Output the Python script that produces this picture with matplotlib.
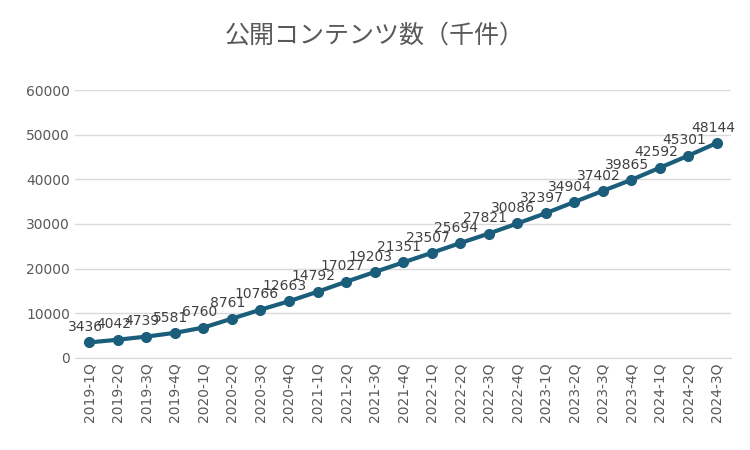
import matplotlib.pyplot as plt

plt.rcParams['font.family'] = ['DejaVu Sans', 'Noto Sans CJK JP']

quarters = ["2019-1Q", "2019-2Q", "2019-3Q", "2019-4Q", "2020-1Q", "2020-2Q", "2020-3Q",
            "2020-4Q", "2021-1Q", "2021-2Q", "2021-3Q", "2021-4Q", "2022-1Q", "2022-2Q",
            "2022-3Q", "2022-4Q", "2023-1Q", "2023-2Q", "2023-3Q", "2023-4Q", "2024-1Q",
            "2024-2Q", "2024-3Q"]
values = [3436, 4042, 4739, 5581, 6760, 8761, 10766, 12663, 14792, 17027, 19203, 21351,
          23507, 25694, 27821, 30086, 32397, 34904, 37402, 39865, 42592, 45301, 48144]

color = "#1b5e7b"
fig = plt.figure(figsize=(7.5, 4.5), dpi=100)
ax = fig.add_axes([0.1, 0.205, 0.875, 0.595])
x = range(len(values))
ax.plot(x, values, color=color, lw=3, marker="o", ms=7, zorder=3)
for i, v in zip(x, values):
    ax.annotate(str(v), (i, v), xytext=(-3, 6), textcoords="offset points",
                ha="center", va="bottom", fontsize=10, color="#404040")

ax.set_ylim(0, 60000)
ax.set_yticks(range(0, 60001, 10000))
ax.set_xlim(-0.5, len(values) - 0.5)
ax.set_xticks(list(x))
ax.set_xticklabels(quarters, rotation=90, fontsize=10, color="#595959")
ax.tick_params(axis="y", labelsize=10, labelcolor="#595959", length=0)
ax.tick_params(axis="x", length=0)
ax.grid(axis="y", color="#d9d9d9", lw=1)
ax.set_axisbelow(True)
for s in ["top", "right", "left"]:
    ax.spines[s].set_visible(False)
ax.spines["bottom"].set_color("#d9d9d9")

fig.suptitle("公開コンテンツ数（千件）", y=0.95, fontsize=18, color="#595959",
             family=['Noto Sans CJK JP', 'DejaVu Sans'])
fig.savefig("out.png")
